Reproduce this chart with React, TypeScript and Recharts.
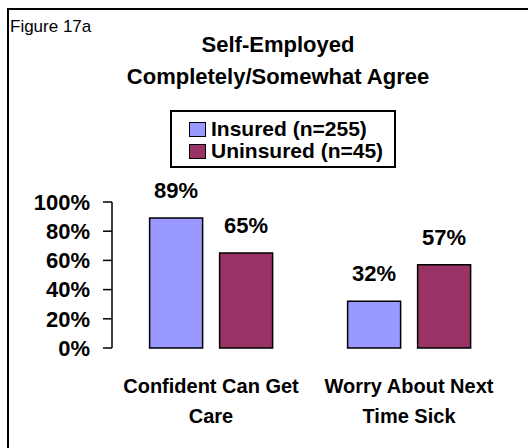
import React from "react";
import { BarChart, Bar, XAxis, YAxis, LabelList, Text } from "recharts";

const figureLabel = "Figure 17a";
const titleLines = ["Self-Employed", "Completely/Somewhat Agree"];
const categories = ["Confident Can Get Care", "Worry About Next Time Sick"];
const seriesNames = ["Insured (n=255)", "Uninsured (n=45)"];
const insured = [89, 32];
const uninsured = [65, 57];
const yTicks = [0, 20, 40, 60, 80, 100];
const edgeTicks = [0, 1, 2];
const colors = ["#9999FF", "#993366"];

const FONT = "'Liberation Sans', Arial, sans-serif";

const data = categories.map((name, i) => ({
  name,
  insured: insured[i],
  uninsured: uninsured[i],
}));

const CategoryTick = ({ x, y, payload }: any) => (
  <Text
    x={x}
    y={y + 31}
    width={190}
    textAnchor="middle"
    verticalAnchor="start"
    lineHeight={30}
    fill="#000"
    style={{ fontFamily: FONT, fontSize: "20px", fontWeight: 700 }}
  >
    {payload.value}
  </Text>
);

export default function App() {
  const keys = ["insured", "uninsured"];
  return (
    <div
      style={{
        position: "fixed",
        left: 0,
        top: 0,
        width: 528,
        height: 448,
        overflow: "hidden",
        background: "#fff",
        fontFamily: FONT,
      }}
    >
      {/* frame: only its left and top edges fall inside the picture */}
      <svg
        width={528}
        height={448}
        style={{ position: "absolute", left: 0, top: 0 }}
      >
        <polyline
          points="8,448 8,9 528,9"
          fill="none"
          stroke="#000"
          strokeWidth={2}
        />
      </svg>
      <div
        style={{
          position: "absolute",
          left: 10,
          top: 17,
          fontSize: 17,
          lineHeight: "20px",
          color: "#000",
        }}
      >
        {figureLabel}
      </div>
      <div
        style={{
          position: "absolute",
          left: 78,
          top: 29,
          width: 400,
          textAlign: "center",
          fontSize: 22,
          fontWeight: 700,
          lineHeight: "32px",
          color: "#000",
        }}
      >
        {titleLines.map((t) => (
          <div key={t}>{t}</div>
        ))}
      </div>
      <div
        style={{
          position: "absolute",
          left: 170,
          top: 110,
          width: 226,
          height: 58,
          boxSizing: "border-box",
          border: "2px solid #000",
          paddingTop: 6,
          background: "#fff",
        }}
      >
        {seriesNames.map((s, i) => (
          <div
            key={s}
            style={{ display: "flex", alignItems: "center", height: 22 }}
          >
            <span
              style={{
                display: "inline-block",
                width: 15,
                height: 13,
                marginLeft: 17,
                marginRight: 5,
                background: colors[i],
                border: "1.5px solid #000",
              }}
            />
            <span
              style={{
                fontSize: 21,
                fontWeight: 700,
                lineHeight: "22px",
                color: "#000",
              }}
            >
              {s}
            </span>
          </div>
        ))}
      </div>
      <div style={{ position: "absolute", left: 0, top: 0 }}>
        <BarChart
          width={528}
          height={448}
          data={data}
          margin={{ top: 202, right: 20, bottom: 0, left: 0 }}
          barCategoryGap="19%"
          barGap={17}
        >
          <XAxis
            xAxisId="edges"
            type="number"
            domain={[0, 2]}
            ticks={edgeTicks}
            allowDataOverflow
            height={0}
            tickSize={8}
            tickFormatter={() => ""}
            axisLine={{ stroke: "#000", strokeWidth: 1.5 }}
            tickLine={{ stroke: "#000", strokeWidth: 1.5 }}
          />
          <XAxis
            xAxisId="cat"
            dataKey="name"
            height={100}
            axisLine={false}
            tickLine={false}
            tickSize={0}
            tickMargin={0}
            interval={0}
            tick={<CategoryTick />}
          />
          <YAxis
            domain={[0, 100]}
            ticks={yTicks}
            interval={0}
            width={112}
            tickSize={9}
            tickMargin={13}
            tickFormatter={(v) => `${v}%`}
            axisLine={{ stroke: "#000", strokeWidth: 1.5 }}
            tickLine={{ stroke: "#000", strokeWidth: 1.5 }}
            tick={{ fill: "#000", fontSize: 22, fontWeight: 700, fontFamily: FONT }}
          />
          {keys.map((k, i) => (
            <Bar
              key={k}
              xAxisId="cat"
              dataKey={k}
              fill={colors[i]}
              stroke="#000"
              strokeWidth={1.5}
              isAnimationActive={false}
            >
              <LabelList
                dataKey={k}
                position="top"
                offset={20}
                formatter={(v: any) => `${v}%`}
                style={{ fill: "#000", fontSize: 22, fontWeight: 700, fontFamily: FONT }}
              />
            </Bar>
          ))}
        </BarChart>
      </div>
    </div>
  );
}
